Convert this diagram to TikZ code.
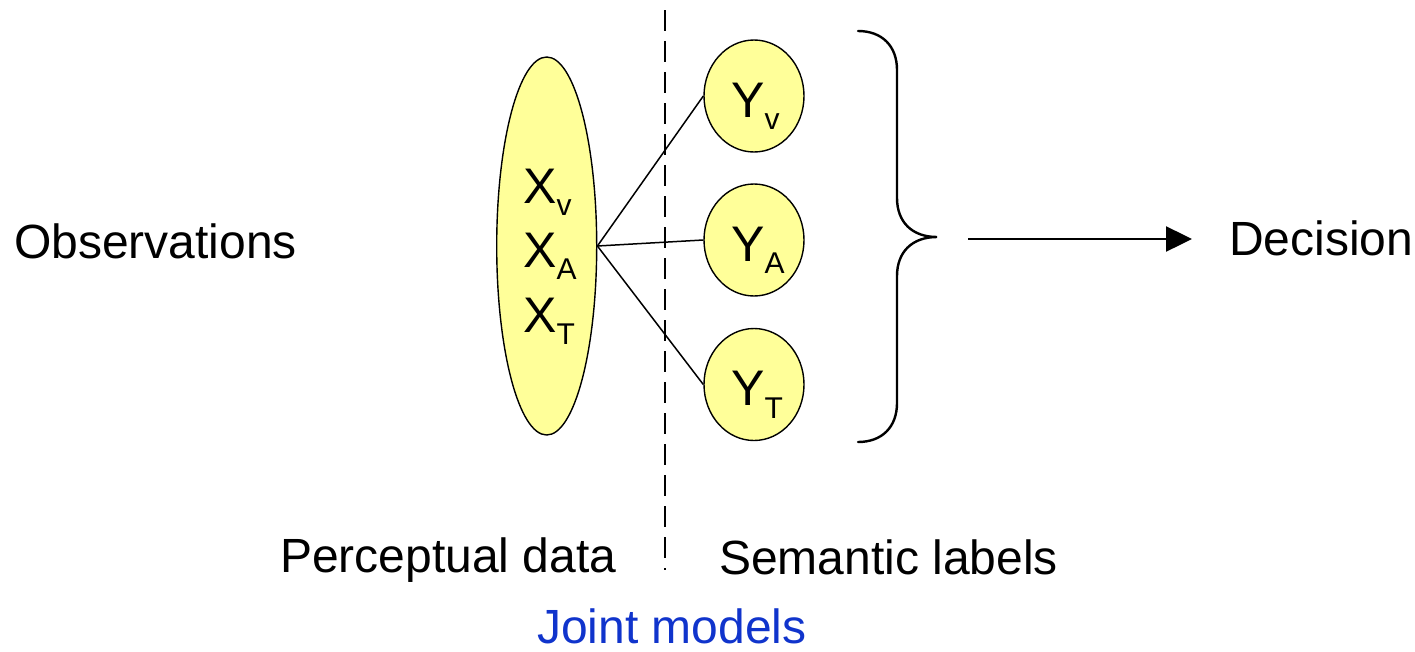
\documentclass[tikz,border=0pt]{standalone}
\usepackage{fontspec}
\setmainfont{Liberation Sans}
\usetikzlibrary{shapes.geometric,arrows.meta}
\definecolor{nodeyellow}{RGB}{255,255,153}
\definecolor{jointblue}{RGB}{16,52,204}
\newcommand{\bigtxt}{\fontsize{48}{56}\selectfont}
\newcommand{\vartxt}{\fontsize{50}{60}\selectfont}
\newcommand{\subtxt}[1]{\raisebox{-12.5pt}{\fontsize{30}{34}\selectfont #1}}
\begin{document}
\begin{tikzpicture}[x=1pt,y=-1pt,
  label/.style={inner sep=0pt,anchor=base west,font=\bigtxt},
  varlabel/.style={inner sep=0pt,anchor=base west,font=\vartxt},
  blob/.style={ellipse,draw=black,line width=1.4pt,fill=nodeyellow,inner sep=0pt},
  link/.style={draw=black,line width=1.5pt},
  heavy/.style={draw=black,line width=2.4pt}]
\useasboundingbox (0,0) rectangle (1415,651);
% ellipse of observations
\node[blob,minimum width=100pt,minimum height=378pt] (ell) at (546.7,246) {};
\node[varlabel] (xv) at (523,203) {X\subtxt{v}};
\node[varlabel] (xa) at (523,267) {X\subtxt{A}};
\node[varlabel] (xt) at (523,332) {X\subtxt{T}};
% label circles
\node[blob,minimum width=100pt,minimum height=112pt] (yv) at (754,96) {};
\node[blob,minimum width=100pt,minimum height=112pt] (ya) at (754,240) {};
\node[blob,minimum width=100pt,minimum height=112pt] (yt) at (754,384.5) {};
\node[varlabel] (yvl) at (731,117) {Y\subtxt{v}};
\node[varlabel] (yal) at (731,261) {Y\subtxt{A}};
\node[varlabel] (ytl) at (731,405.5) {Y\subtxt{T}};
% connectors
\draw[link] (ell.east) -- (yv.west);
\draw[link] (ell.east) -- (ya.west);
\draw[link] (ell.east) -- (yt.west);
% dashed divider
\coordinate (dtop) at (665,10);
\coordinate (dbot) at (665,570);
\draw[line width=2pt,dash pattern=on 21pt off 10pt] (dtop) -- (dbot);
% brace
\coordinate (btop) at (858,31);
\coordinate (btip) at (937,237);
\coordinate (bbot) at (858,442);
\draw[heavy,line cap=round] (btop) .. controls (882,31) and (897,46) .. (897,70)
  -- (897,198) .. controls (897,222) and (912,237) .. (btip)
  .. controls (912,237) and (897,252) .. (897,276)
  -- (897,403) .. controls (897,427) and (882,442) .. (bbot);
% arrow to decision
\coordinate (astart) at (968,239);
\coordinate (aend) at (1192,239);
\draw[heavy,-{Triangle[length=26pt,width=25pt]}] (astart) -- (aend);
% texts
\node[label] (obs) at (14,258) {Observations};
\node[label] (dec) at (1229,255) {Decision};
\node[label] (perc) at (280,572) {Perceptual data};
\node[label] (sem) at (719,574) {Semantic labels};
\node[label,text=jointblue,text depth=0pt] (joint) at (537,643) {Joint models};
\end{tikzpicture}
\end{document}
